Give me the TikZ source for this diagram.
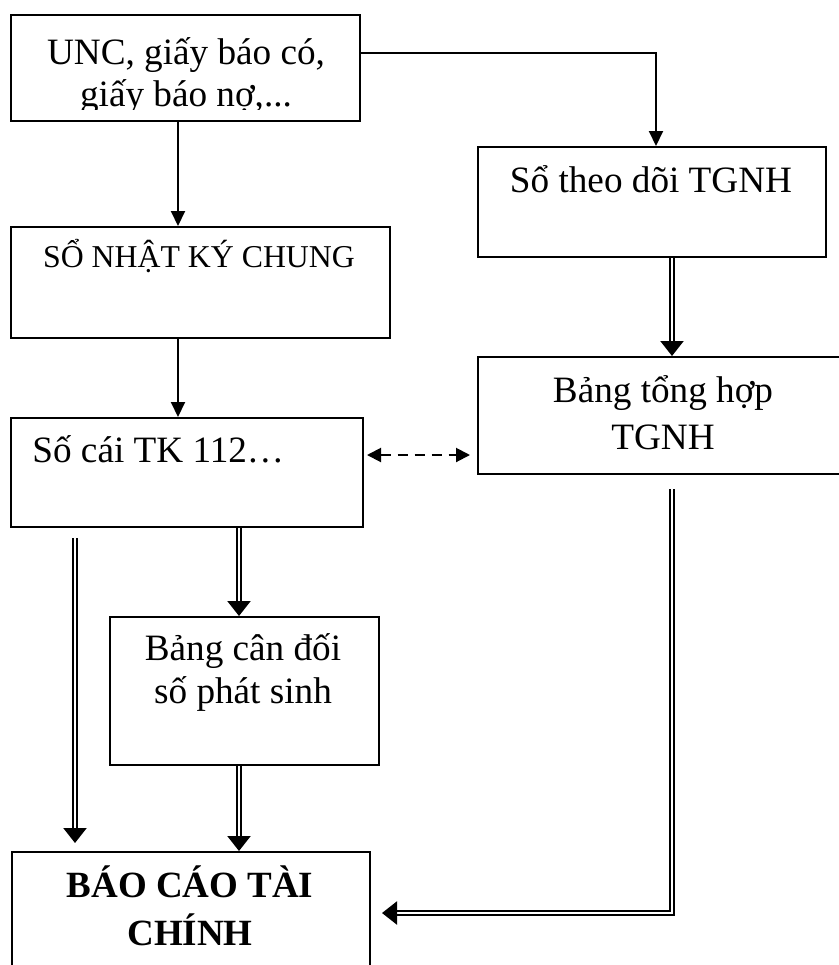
\documentclass[tikz,border=0pt]{standalone}
\usepackage{fontspec}
\setmainfont{Liberation Serif}
\usetikzlibrary{arrows.meta}

\begin{document}
\begin{tikzpicture}[x=0.5pt, y=-0.5pt,
	hop/.style={draw, line width=1pt, inner sep=0pt, anchor=north west},
	chu/.style={inner sep=0pt, align=center, anchor=base, font=\fontsize{18.6}{22}\selectfont},
	mui/.style={line width=1pt, -{Triangle[length=7.5pt, width=7pt]}},
	kep/.style={double, double distance=1.1pt, line width=1.1pt, -{Triangle[length=7.5pt, width=11.5pt]}},
	netdut/.style={line width=1pt, dash pattern=on 5pt off 3.5pt, {Triangle[length=7pt, width=7pt]}-{Triangle[length=7pt, width=7pt]}}]

%Khung anh
\clip (0,0) rectangle (839,965);

%Cac hop
\node[hop, minimum width=174.5pt, minimum height=53pt] (unc) at (10,14) {};
\node[hop, minimum width=174pt, minimum height=55pt] (theodoi) at (477,146) {};
\node[hop, minimum width=189.5pt, minimum height=55.5pt] (nkc) at (10,226) {};
\node[hop, minimum width=184pt, minimum height=58.5pt] (tonghop) at (477,356) {};
\node[hop, minimum width=176pt, minimum height=54.5pt] (socai) at (10,417) {};
\node[hop, minimum width=134.5pt, minimum height=74pt] (candoi) at (109,616) {};
\node[hop, minimum width=179pt, minimum height=70pt] (bctc) at (11,851) {};

%Chu trong hop (base = dong cuoi)
\begin{scope}
\clip (10,14) rectangle (359,109);
\node[chu, font=\fontsize{18.6}{21}\selectfont] (uncT) at (186,106) {UNC, giấy báo có,\\giấy báo nợ,...};
\end{scope}
\node[chu] (theodoiT) at (651,192) {Sổ theo dõi TGNH};
\node[chu, font=\fontsize{15.9}{19}\selectfont] (nkcT) at (199,267) {SỔ NHẬT KÝ CHUNG};
\node[chu, anchor=base west] (socaiT) at (32,462) {Số cái TK 112…};
\node[chu, font=\fontsize{18.6}{23.5}\selectfont] (tonghopT) at (663,449) {Bảng tổng hợp\\TGNH};
\node[chu, font=\fontsize{18.6}{21.5}\selectfont] (candoiT) at (243,703) {Bảng cân đối\\số phát sinh};
\node[chu, font=\fontsize{18.5}{24}\selectfont\bfseries] (bctcT) at (190,945) {BÁO CÁO TÀI\\CHÍNH};

%Cot cho mui ten
\coordinate (cot1) at (178,0);
\coordinate (cot2) at (239,0);
\coordinate (cot3) at (75,0);
\coordinate (cot4) at (672,0);
\coordinate (hang) at (0,455);
\coordinate (goc) at (672,913);

%Mui ten don
\draw[mui] ([yshift=7.5pt]unc.east) -| ([xshift=2pt]theodoi.north);
\draw[mui] (unc.south -| cot1) -- (nkc.north -| cot1);
\draw[mui] (nkc.south -| cot1) -- (socai.north -| cot1);

%Mui ten net dut
\draw[netdut, shorten <=1.5pt, shorten >=3.5pt] (socai.east |- hang) -- (tonghop.west |- hang);

%Mui ten kep
\draw[kep] (theodoi.south -| cot4) -- (tonghop.north -| cot4);
\draw[kep] (socai.south -| cot2) -- (candoi.north -| cot2);
\draw[kep] (candoi.south -| cot2) -- (bctc.north -| cot2);
\draw[kep, shorten <=5pt, shorten >=4pt] (socai.south -| cot3) -- (bctc.north -| cot3);
\draw[kep, shorten <=7pt, shorten >=5.5pt] (tonghop.south -| goc) -- (goc) -- (bctc.east |- goc);

\end{tikzpicture}
\end{document}
